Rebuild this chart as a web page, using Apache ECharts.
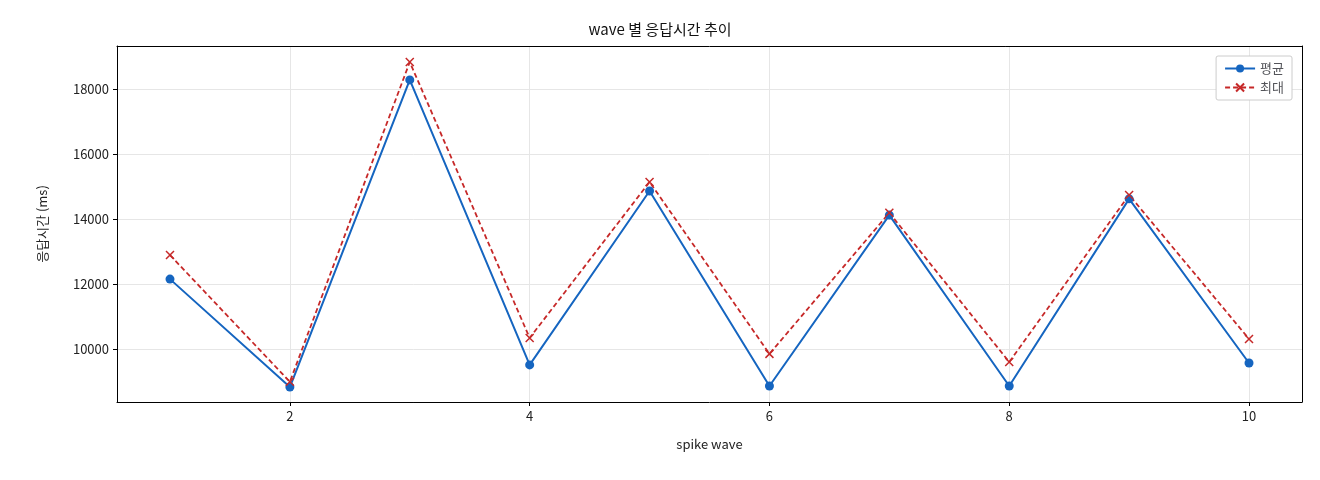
<!DOCTYPE html><html><head><meta charset="utf-8"><script src="https://cdn.jsdelivr.net/npm/echarts@6/dist/echarts.min.js"></script></head><body style="margin:0"><div id="c" style="width:1320px;height:480px"></div><script>
const waves=[1,2,3,4,5,6,7,8,9,10];
const avgVals=[12150,8830,18280,9510,14860,8860,14120,8860,14620,9570];
const maxVals=[12890,8990,18830,10340,15140,9850,14190,9600,14740,10310];
const xTicks=[2,4,6,8,10];
const yTicks=[10000,12000,14000,16000,18000];
const F='"Noto Sans CJK KR","DejaVu Sans",sans-serif';
const X='path://M0,0L1,1M1,0L0,1';
const c=echarts.init(document.getElementById('c'));
const ax={axisLine:{show:true,onZero:false,lineStyle:{color:'#000'}},axisTick:{show:true,length:4,lineStyle:{color:'#000'}},axisLabel:{color:'#222',fontSize:13,fontFamily:F,formatter:v=>String(v)},splitLine:{show:true,lineStyle:{color:'#e6e6e6'}}};
const box={type:'value',axisLine:{show:true,onZero:false,lineStyle:{color:'#000'}},axisTick:{show:false},axisLabel:{show:false},splitLine:{show:false}};
c.setOption({
title:{text:'wave 별 응답시간 추이',left:'center',top:17,textStyle:{fontSize:15,fontWeight:'normal',fontFamily:F,color:'#111'}},
grid:{left:117,right:18,top:46,bottom:78},
legend:{right:28,top:56,orient:'vertical',itemGap:6,backgroundColor:'#fff',borderColor:'#ccc',borderWidth:1,borderRadius:2,padding:[6,8],textStyle:{fontFamily:F,fontSize:13},itemWidth:30,itemHeight:10},
xAxis:[Object.assign({},ax,{type:'value',min:0.558,max:10.442,name:'spike wave',nameLocation:'middle',nameGap:36,nameTextStyle:{fontFamily:F,fontSize:13,color:'#222'},axisTick:Object.assign({},ax.axisTick,{customValues:xTicks}),axisLabel:Object.assign({},ax.axisLabel,{customValues:xTicks})}),Object.assign({},box,{position:'top',min:0.558,max:10.442})],
yAxis:[Object.assign({},ax,{type:'value',min:8369,max:19323,name:'응답시간 (ms)',nameLocation:'middle',nameGap:68,nameTextStyle:{fontFamily:F,fontSize:13,color:'#222'},axisTick:Object.assign({},ax.axisTick,{customValues:yTicks}),axisLabel:Object.assign({},ax.axisLabel,{customValues:yTicks})}),Object.assign({},box,{position:'right',min:8369,max:19323})],
series:[
{name:'평균',type:'line',data:waves.map((w,i)=>[w,avgVals[i]]),symbol:'circle',symbolSize:9,itemStyle:{color:'#1565c0'},lineStyle:{width:2,color:'#1565c0'}},
{name:'최대',type:'line',data:waves.map((w,i)=>[w,maxVals[i]]),symbol:X,symbolSize:8,itemStyle:{color:'transparent',borderColor:'#c62828',borderWidth:1.5},lineStyle:{width:1.8,type:[5,3],color:'#c62828'}}
]});
</script></body></html>
